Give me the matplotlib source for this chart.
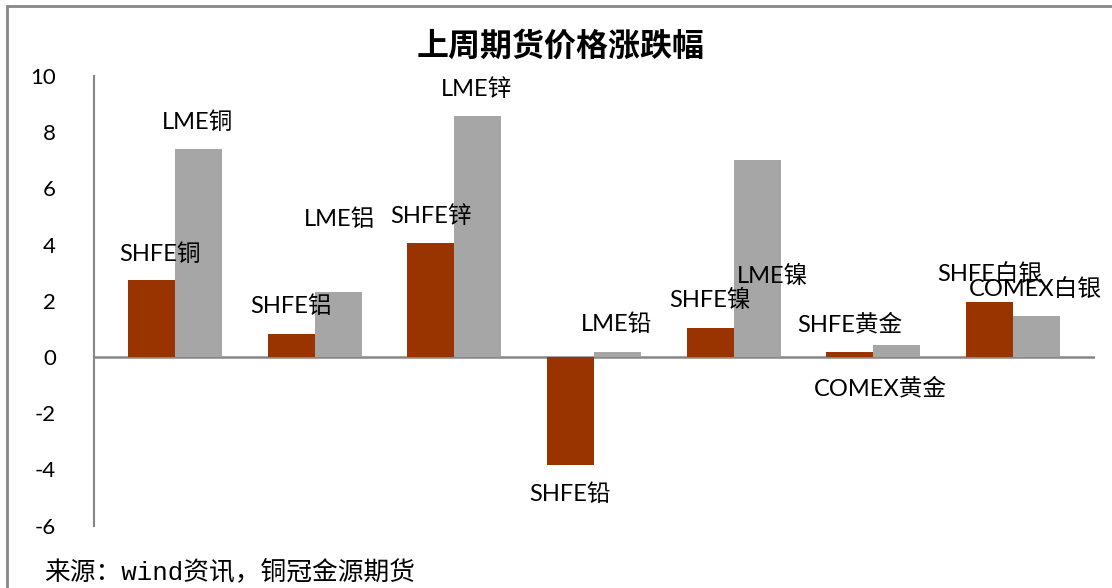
import numpy as np
import matplotlib
matplotlib.use("Agg")
import matplotlib.pyplot as plt
from matplotlib.patches import Rectangle

plt.rcParams["font.family"] = ["Lato", "Noto Sans CJK SC", "DejaVu Sans"]

# 数据
groups = ["铜", "铝", "锌", "铅", "镍", "黄金", "白银"]
shfe_names = ["SHFE铜", "SHFE铝", "SHFE锌", "SHFE铅", "SHFE镍", "SHFE黄金", "SHFE白银"]
lme_names = ["LME铜", "LME铝", "LME锌", "LME铅", "LME镍", "COMEX黄金", "COMEX白银"]
shfe_vals = [2.75, 0.82, 4.07, -3.86, 1.04, 0.18, 1.96]
lme_vals = [7.39, 2.32, 8.57, 0.18, 7.0, 0.43, 1.46]

# 标签位置（手动摆放，数据坐标）
shfe_lbl_pos = [(-0.11, 3.67), (0.83, 1.81), (1.83, 5.02), (2.83, -4.87),
                (3.83, 2.03), (4.83, 1.17), (5.83, 2.96)]
lme_lbl_pos = [(0.16, 8.36), (1.18, 4.91), (2.16, 9.54), (3.16, 1.17),
               (4.28, 2.88), (5.05, -1.11), (6.16, 2.42)]

fig = plt.figure(figsize=(11.12, 5.88), dpi=100)
ax = fig.add_axes([0.0841, 0.1061, 0.9006, 0.7646])

x = np.arange(len(groups))
w = 0.336
ax.bar(x - w / 2, shfe_vals, w, color="#993300", zorder=2)
ax.bar(x + w / 2, lme_vals, w, color="#A6A6A6", zorder=2)

lbl_font = ["Lato", "Noto Sans CJK SC"]
for name, (tx, ty) in zip(shfe_names, shfe_lbl_pos):
    ax.text(tx, ty, name, ha="center", va="center", fontsize=17, family=lbl_font, zorder=3)
for name, (tx, ty) in zip(lme_names, lme_lbl_pos):
    ax.text(tx, ty, name, ha="center", va="center", fontsize=17, family=lbl_font, zorder=3)

ax.set_xlim(-0.583, 6.586)
ax.set_ylim(-6, 10)
ax.set_yticks(range(-6, 11, 2))
ax.set_yticklabels([str(v) for v in range(-6, 11, 2)], fontsize=16)
ax.tick_params(axis="y", length=0, pad=27)
ax.set_xticks([])
for s in ["top", "right", "bottom"]:
    ax.spines[s].set_visible(False)
ax.spines["left"].set_color("#868686")
ax.spines["left"].set_linewidth(1.5)
ax.axhline(0, color="#868686", linewidth=1.8, zorder=1)

fig.text(0.504, 0.92, "上周期货价格涨跌幅", ha="center", va="center", fontsize=23,
         fontweight="bold", family=["Noto Sans CJK SC"])
fig.text(0.040, 0.025, "来源：wind资讯，铜冠金源期货", ha="left", va="center", fontsize=18.5,
         family=["Liberation Mono", "Noto Sans CJK SC"])

# 外框
fig.patches.append(Rectangle((7 / 1112, -0.1), 1.2, 1.1 - 6 / 588, transform=fig.transFigure,
                             fill=False, edgecolor="#888888", linewidth=2))

fig.savefig("out.png", dpi=100)
